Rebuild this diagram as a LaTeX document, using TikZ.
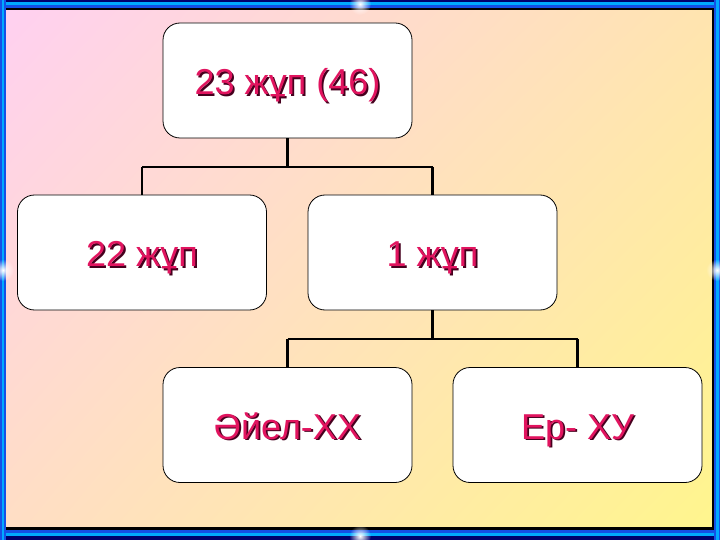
\documentclass[tikz,border=0pt]{standalone}
\usepackage{fontspec}
\setmainfont{Liberation Sans}
\usetikzlibrary{fadings,shadings}
\definecolor{txtred}{RGB}{225,20,95}
\definecolor{shadowc}{RGB}{70,0,30}
\definecolor{bgTL}{RGB}{255,208,242}
\definecolor{bgTR}{RGB}{255,228,175}
\definecolor{bgBL}{RGB}{255,222,196}
\definecolor{bgBR}{RGB}{255,246,140}
\definecolor{brightblue}{RGB}{0,170,255}
\definecolor{midblue}{RGB}{20,80,230}
\definecolor{darkblue}{RGB}{0,0,110}
\tikzfading[name=glow, inner color=transparent!0, outer color=transparent!100]
\tikzset{
  x=1pt, y=-1pt,
  box/.style={draw=black, line width=0.8pt, fill=white, rounded corners=17pt,
    minimum width=249pt, minimum height=115pt, inner sep=0pt,
    font=\fontsize{36}{36}\selectfont, text height=28pt, text depth=0pt},
  link/.style={draw=black, line width=2.6pt},
}
\newcommand{\lbl}[1]{\rlap{\hspace{1.8pt}\raisebox{-1.8pt}{\textcolor{shadowc}{#1}}}\textcolor{txtred}{#1}}
\begin{document}
\begin{tikzpicture}
\useasboundingbox (0,0) rectangle (720,540);
% background
\shade[upper left=bgTL, upper right=bgTR, lower left=bgBL, lower right=bgBR] (0,0) rectangle (720,540);
% frame
\fill[darkblue] (0,0) rectangle (720,2.5);
\fill[brightblue] (0,2.5) rectangle (720,5.5);
\fill[midblue] (0,5.5) rectangle (720,8);
\fill[black] (6,8) rectangle (712,10);
\fill[darkblue] (0,540) rectangle (720,536);
\fill[brightblue] (0,536) rectangle (720,533);
\fill[midblue] (0,533) rectangle (720,530);
\fill[black] (6,530) rectangle (712,527);
\fill[midblue] (0,0) rectangle (6,540);
\fill[brightblue] (1.5,0) rectangle (4,540);
\fill[black] (712,8) rectangle (714,530);
\fill[midblue] (714,0) rectangle (720,540);
\fill[brightblue] (716,0) rectangle (718.5,540);
% sparkles
\foreach \sx/\sy in {360/4, 360/536, 3/270, 717/270}
  \fill[white, path fading=glow] (\sx,\sy) circle (11pt);
% nodes
\node[box] (top) at (287.5,80.5) {\lbl{23 жұп (46)}};
\node[box] (left) at (142,252.5) {\lbl{22 жұп}};
\node[box] (mid) at (432.5,252.5) {\lbl{1 жұп}};
\node[box] (woman) at (287.5,425) {\lbl{Әйел-ХХ}};
\node[box] (man) at (577.5,425) {\lbl{Ер- ХУ}};
% connectors
\coordinate (j1) at (287.5,167);
\coordinate (j2) at (432.5,339);
\draw[link] (top.south) -- (j1);
\draw[link] (left.north |- j1) -- (mid.north |- j1);
\draw[link] (left.north |- j1) -- (left.north);
\draw[link] (mid.north |- j1) -- (mid.north);
\draw[link] (mid.south) -- (j2);
\draw[link] (woman.north |- j2) -- (man.north |- j2);
\draw[link] (woman.north |- j2) -- (woman.north);
\draw[link] (man.north |- j2) -- (man.north);
\end{tikzpicture}
\end{document}
